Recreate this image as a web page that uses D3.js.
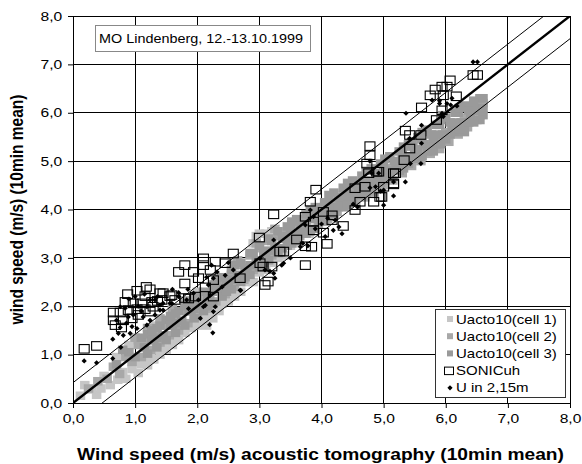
<!DOCTYPE html>
<html><head><meta charset="utf-8">
<script src="https://cdn.jsdelivr.net/npm/d3@7"></script>
<style>body{margin:0;background:#fff}svg{display:block;font-family:Arial,"Liberation Sans",sans-serif}</style>
</head><body><div id="chart"></div>
<script>
// ---------- data ----------
const xTickValues = [0,1,2,3,4,5,6,7,8];
const yTickValues = [0,1,2,3,4,5,6,7,8];
const chartTitle = "MO Lindenberg, 12.-13.10.1999";
const xTitle = "Wind speed (m/s) acoustic tomography (10min mean)";
const yTitle = "wind speed (m/s) (10min mean)";
const seriesNames = ["Uacto10(cell 1)","Uacto10(cell 2)","Uacto10(cell 3)","SONICuh","U in 2,15m"];
const bandOffsets = [0.42, -0.47];

const cell1 = [[0.12,0.15],[0.19,0.37],[0.38,0.17],[0.3,0.28],[0.45,0.3],[0.6,0.37],[0.72,0.48],[0.5,0.56],[0.8,0.64],[0.85,0.5],
[0.95,0.7],[1.0,0.85],[1.05,0.62],[1.1,0.8],[1.15,0.95],[1.2,0.78],[1.25,1.0],[1.3,0.9],[1.35,1.1],[1.4,1.0],[1.45,1.2],[1.5,1.1],
[1.55,1.3],[1.6,1.2],[1.65,1.4],[1.7,1.3],[1.75,1.5],[1.8,1.45],[1.85,1.6],[1.9,1.55],[1.95,1.7],[2.0,1.6],[2.05,1.8],[2.1,1.7],
[2.15,1.6],[2.2,1.85],[2.25,1.75],[2.3,1.95],[2.35,1.9],[2.4,2.05],[2.5,2.1],[2.6,2.2],[2.7,2.3],[2.8,2.5],[2.9,2.5],[3.0,2.7],
[3.1,2.75],[3.2,2.9],[3.3,3.0],[3.4,3.05],[3.5,3.25],[3.6,3.3],[3.7,3.5],[3.8,3.5],[1.0,1.3],[1.3,1.6],[2.0,2.3],[2.6,2.9],
[2.9,3.3],[3.0,3.5],[3.2,3.55],[2.95,3.45],[3.1,3.5],[0.7,0.95],[0.9,1.2]];

const cell2 = [[0.55,0.5],[0.65,0.75],[0.75,0.6],[0.85,0.95],[0.95,0.85],[1.05,1.2],[1.1,0.95],[1.2,1.3],[1.25,1.1],[1.35,1.45],
[1.4,1.25],[1.5,1.6],[1.55,1.4],[1.65,1.75],[1.7,1.5],[1.8,1.9],[1.85,1.65],[1.95,2.05],[2.0,1.8],[2.1,2.2],[2.15,1.95],[2.25,2.35],
[2.3,2.1],[2.4,2.5],[2.45,2.25],[2.55,2.65],[2.6,2.4],[2.7,2.85],[2.75,2.55],[2.85,3.05],[2.9,2.75],[3.0,3.2],[3.05,2.9],[3.15,3.35],
[3.2,3.05],[3.3,3.45],[3.35,3.2],[3.45,3.55],[3.5,3.3],[3.6,3.7],[3.65,3.45],[3.75,3.8],[3.8,3.55],[3.9,3.95],[3.95,3.7],[4.05,4.05],
[4.1,3.8],[4.2,4.15],[4.25,3.95],[4.35,4.3],[4.4,4.05],[4.5,4.4],[4.55,4.15],[4.65,4.5],[4.7,4.25],[4.8,4.6],[4.85,4.35],[4.95,4.75],
[5.0,4.5],[5.1,4.85],[5.15,4.6],[5.25,5.0],[5.3,4.75],[5.4,5.1],[5.45,4.9],[5.55,5.25],[5.6,5.0],[5.7,5.35],[5.75,5.15],[5.85,5.5],
[5.9,5.25],[6.0,5.6],[6.05,5.4],[6.15,5.75],[6.2,5.55],[6.3,5.9],[6.35,5.7],[6.45,6.05],[6.5,5.85],[6.6,6.2],[6.55,5.95],
[1.0,1.35],[1.2,1.55],[1.4,1.75],[1.6,1.95],[1.8,2.12],[2.35,2.6],[2.65,2.95],[2.95,3.3],[3.25,3.6],[0.4,0.45],[0.25,0.3]];

const cell3 = [[0.7,0.8],[0.9,1.05],[1.0,0.95],[1.15,1.15],[1.3,1.3],[1.45,1.4],[1.6,1.6],[1.75,1.7],[1.9,1.9],[2.05,2.0],[2.2,2.15],
[2.35,2.35],[2.5,2.45],[2.65,2.65],[2.8,2.75],[2.95,2.95],[3.1,3.1],[3.25,3.2],[3.4,3.4],[3.55,3.5],[3.7,3.65],[3.85,3.8],[4.0,3.9],
[4.15,4.05],[4.3,4.2],[4.45,4.3],[4.6,4.45],[4.75,4.55],[4.9,4.7],[5.05,4.8],[5.2,4.95],[5.35,5.05],[5.5,5.2],[5.65,5.35],[5.8,5.45],
[5.95,5.55],[6.1,5.7],[6.25,5.8],[6.4,5.95],[6.5,6.1],[6.6,6.3],[6.6,5.95],[6.45,6.25],[6.2,6.0],[5.9,5.75],[5.6,5.45],[5.3,5.15],
[5.0,4.9],[4.7,4.6],[4.4,4.4],[4.1,4.15],[3.8,3.9],[3.5,3.6],[3.2,3.35],[2.9,3.1],[2.6,2.85],[2.3,2.5],[2.0,2.2],[1.7,1.9],[1.4,1.6],
[1.1,1.35],[0.8,1.1],[5.8,5.2],[6.3,5.6],[6.55,6.05],[5.45,5.4],[5.95,5.95],
[1.2,1.42],[1.2,1.02],[1.5,1.72],[1.5,1.3],[1.8,2.0],[1.8,1.6],[2.1,2.3],[2.1,1.9],[2.4,2.6],[2.4,2.2],[2.7,2.9],[2.7,2.5],
[3.0,3.25],[3.0,2.8],[3.3,3.55],[3.3,3.1],[3.6,3.8],[3.6,3.35],[3.9,4.05],[3.9,3.6],[4.2,4.35],[4.2,3.9],[4.5,4.6],[4.5,4.15],
[4.8,4.85],[4.8,4.4],[5.1,5.1],[5.1,4.65],[5.4,5.35],[5.4,4.95],[5.7,5.65],[5.7,5.2],[6.0,5.9],[6.0,5.45],[6.3,6.15],[6.3,5.75],
[6.55,6.3],[6.55,5.85],[1.35,1.35],[1.65,1.65],[1.95,1.95],[2.25,2.3],[2.55,2.55],[2.85,2.85],[3.15,3.15],[3.45,3.45],[3.75,3.7],
[4.05,3.95],[4.35,4.25],[4.65,4.5],[4.95,4.75],[5.25,5.0],[5.55,5.25],[5.85,5.55],[6.15,5.8],[6.45,6.05],
[1.35,1.55],[1.35,1.15],[1.65,1.85],[1.65,1.45],[1.95,2.15],[1.95,1.75],[2.25,2.45],[2.25,2.05],[2.55,2.75],[2.55,2.35],
[2.85,3.1],[2.85,2.65],[3.15,3.4],[3.15,2.95],[3.45,3.65],[3.45,3.25],[3.75,3.9],[3.75,3.5],[4.05,4.15],[4.05,3.75],[4.35,4.45],
[4.35,4.05],[4.65,4.7],[4.65,4.3],[4.95,4.95],[4.95,4.55],[5.25,5.2],[5.25,4.8],[5.55,5.5],[5.55,5.05],[5.85,5.75],[5.85,5.35],
[6.15,6.0],[6.15,5.6],[6.45,6.2],[6.45,5.8],
[1.27,1.3],[1.27,1.5],[1.57,1.6],[1.57,1.8],[1.87,1.9],[1.87,2.08],[2.17,2.2],[2.17,2.0],[2.47,2.5],[2.47,2.3],[2.77,2.8],[2.77,2.6],
[3.07,3.1],[3.07,2.9],[3.37,3.4],[3.37,3.2],[3.67,3.7],[3.67,3.5],[3.97,3.95],[3.97,3.75],[4.27,4.25],[4.27,4.05],[4.57,4.5],
[4.57,4.3],[4.87,4.75],[4.87,4.55],[5.17,5.0],[5.17,4.8],[5.47,5.3],[5.47,5.05],[5.77,5.55],[5.77,5.3],[6.07,5.8],[6.07,5.55],
[6.37,6.05],[6.37,5.8],[6.6,6.1],[3.52,3.75],[3.82,4.0],[4.12,4.3],[4.42,4.55],[4.72,4.8],[5.02,5.05],[5.32,5.3],[5.62,5.6],[5.92,5.85],
[6.22,6.1],[3.52,3.3],[3.82,3.55],[4.12,3.85],[4.42,4.1],[4.72,4.35],[5.02,4.6],[5.32,4.85],[5.62,5.1],[5.92,5.35],[6.22,5.65]];

const sonic = [[0.18,1.12],[0.38,1.18],[1.03,2.32],[1.24,2.35],[1.40,2.27],[1.56,2.21],[1.16,2.21],[0.84,2.09],[0.97,2.06],[1.11,2.06],
[1.27,2.09],[0.65,1.87],[0.76,1.87],[0.89,1.92],[1.03,1.94],[1.16,1.94],[0.65,1.71],[0.81,1.71],[0.95,1.75],[0.68,1.61],[0.78,1.56],
[1.05,1.82],[1.29,1.99],[1.36,2.11],[1.24,1.89],[1.64,2.13],[1.80,2.17],[1.97,2.2],[0.88,2.25],[1.18,2.4],
[1.45,2.27],[1.59,2.23],[1.43,2.13],[1.86,2.16],[2.26,2.20],[1.80,2.47],[2.02,2.58],[2.13,2.39],[2.26,2.54],[1.70,2.71],[1.94,2.71],
[2.21,2.75],[1.80,2.85],[2.10,2.85],[2.10,2.99],[2.29,2.92],[2.45,2.89],[2.58,3.09],[2.69,2.58],[3.01,2.89],[3.06,2.82],[3.14,2.51],
[3.09,2.44],[3.0,3.42],[3.23,3.90],
[4.78,5.31],[4.78,5.12],[4.73,4.95],[3.91,4.41],[3.82,4.16],[4.76,4.75],[4.89,4.78],[5.19,4.75],[5.16,4.54],[4.54,4.44],[4.70,4.47],
[4.94,4.26],[4.84,4.16],[4.62,4.16],[4.54,3.99],[4.03,3.95],[4.17,3.88],[4.17,3.78],[3.74,3.85],[3.87,3.75],[3.87,3.57],[4.03,3.52],
[4.35,3.66],[4.09,3.29],[3.60,3.38],[3.84,3.23],[3.74,3.24],[3.33,3.13],[3.39,3.13],[3.74,2.85],[3.20,2.82],
[6.44,6.78],[6.51,6.78],[6.07,6.67],[5.94,6.54],[6.02,6.54],[5.83,6.48],[5.75,6.36],[5.96,6.36],[6.17,6.34],[5.61,6.11],[5.94,6.05],
[5.85,5.85],[5.35,5.63],[5.42,5.54],[5.60,5.54],[5.42,5.26],[5.33,5.02],[5.16,4.75],[5.16,4.52],[5.0,4.47],[4.97,4.26],[4.92,4.78]];

const u215 = [[0.18,0.87],[0.38,0.83],[0.64,1.32],[0.77,1.15],[0.64,0.92],[0.73,1.44],[0.92,1.44],[1.03,1.54],[1.19,1.61],[1.24,1.71],
[1.32,1.82],[1.40,1.92],[1.45,2.06],[1.56,2.06],[1.70,2.28],[0.76,1.99],[0.84,1.96],[0.89,1.78],[0.97,1.82],[1.1,1.9],[1.13,1.78],
[1.19,1.99],[1.32,2.13],[1.36,2.2],[0.86,1.65],[0.76,1.56],[0.81,1.40],[0.70,1.71],[0.95,1.58],[1.05,2.0],[1.24,2.13],[1.40,2.03],
[1.0,2.2],[0.9,2.15],[1.15,2.25],[1.6,2.35],[1.85,2.35],
[1.45,1.92],[1.59,2.06],[1.70,2.2],[1.83,2.13],[1.86,1.95],[1.94,2.27],[2.02,2.13],[2.10,1.99],[2.21,2.23],[2.29,1.99],[2.18,2.44],
[2.23,2.85],[2.32,2.71],[2.45,2.64],[2.26,2.58],[2.69,2.33],[2.58,2.75],[3.01,2.99],[3.09,2.75],[3.17,2.72],[3.25,2.58],[2.2,1.62],
[2.25,1.45],[2.05,1.75],[2.4,2.4],[2.15,2.6],[2.5,2.9],[2.26,1.89],[2.13,2.02],[2.70,2.33],
[4.81,4.75],[4.92,4.75],[4.78,4.45],[4.87,4.47],[4.95,4.38],[5.16,4.57],[5.0,4.09],[4.51,4.11],[4.58,4.05],[4.22,3.78],[4.1,3.82],
[4.06,3.44],[4.19,3.57],[4.33,3.50],[4.28,3.64],[3.82,3.99],[3.87,3.85],[3.74,3.68],[3.66,3.23],[3.7,3.3],[3.78,3.25],[3.23,3.37],
[3.39,2.89],[3.36,2.85],[3.23,2.68],[4.78,5.0],[3.9,3.6],[4.0,3.7],[3.5,3.0],
[6.44,7.05],[6.51,7.05],[5.78,6.26],[5.90,6.19],[6.02,6.19],[6.08,6.16],[6.18,6.14],[5.36,5.99],[5.61,5.74],[5.94,5.99],[5.96,5.92],
[5.42,5.47],[5.61,5.37],[5.43,4.95],[5.60,4.95],[5.35,4.57],[5.16,4.28],[5.0,4.4],[5.9,6.25],[6.1,6.3]];

// ---------- layout ----------
const W = 582, H = 464;
const L = 73, R = 570, T = 16, B = 403;
const SX = 1.2; // horizontal text stretch of the original
const grayColors = ["#c6c6c6", "#a8a8a8", "#9a9a9a"];

const svg = d3.select("#chart").append("svg").attr("width", W).attr("height", H);
const x = d3.scaleLinear().domain([0, 8]).range([L, R]);
const y = d3.scaleLinear().domain([0, 8]).range([B, T]);
const loc = d3.formatLocale({decimal: ",", thousands: ".", grouping: [3], currency: ["", "€"]});
const fmt = loc.format(".1f");

svg.append("defs").append("clipPath").attr("id", "clip")
  .append("rect").attr("x", L).attr("y", T).attr("width", R - L).attr("height", B - T);

// grid
const grid = svg.append("g").attr("stroke", "#000").attr("stroke-width", 1).attr("shape-rendering", "crispEdges");
grid.selectAll(".gx").data(xTickValues).join("line")
  .attr("x1", d => x(d)).attr("x2", d => x(d)).attr("y1", T).attr("y2", B);
grid.selectAll(".gy").data(yTickValues).join("line")
  .attr("y1", d => y(d)).attr("y2", d => y(d)).attr("x1", L).attr("x2", R);

// axes
const xAxis = svg.append("g").attr("transform", `translate(0,${B})`)
  .call(d3.axisBottom(x).tickValues(xTickValues).tickFormat(fmt).tickSize(5).tickSizeOuter(0));
const yAxis = svg.append("g").attr("transform", `translate(${L},0)`)
  .call(d3.axisLeft(y).tickValues(yTickValues).tickFormat(fmt).tickSize(5).tickSizeOuter(0));
[xAxis, yAxis].forEach(g => {
  g.select(".domain").attr("stroke", "#000");
  g.selectAll(".tick line").attr("stroke", "#000");
  g.selectAll(".tick text").attr("fill", "#000").style("font-size", "13px")
    .style("font-family", "Arial, 'Liberation Sans', sans-serif");
});
xAxis.selectAll(".tick text").attr("y", 11).attr("dy", "0.71em").attr("transform", `scale(${SX},1)`);
yAxis.selectAll(".tick text").attr("x", -9).attr("transform", `scale(${SX},1)`);

const plot = svg.append("g").attr("clip-path", "url(#clip)");

// gray series
[cell1, cell2, cell3].forEach((ser, i) => {
  plot.append("g").selectAll("rect").data(ser).join("rect")
    .attr("x", d => x(d[0]) - 4.75).attr("y", d => y(d[1]) - 4.25)
    .attr("width", 9.5).attr("height", 8.5).attr("fill", grayColors[i]);
});

// reference lines
const diag = plot.append("g");
diag.append("line").attr("x1", x(0)).attr("y1", y(0)).attr("x2", x(8)).attr("y2", y(8))
  .attr("stroke", "#000").attr("stroke-width", 2.4);
bandOffsets.forEach(o => {
  diag.append("line").attr("x1", x(-1)).attr("y1", y(-1 + o)).attr("x2", x(9)).attr("y2", y(9 + o))
    .attr("stroke", "#000").attr("stroke-width", 1);
});

// SONIC squares
plot.append("g").selectAll("rect").data(sonic).join("rect")
  .attr("x", d => x(d[0]) - 5).attr("y", d => y(d[1]) - 4.25)
  .attr("width", 10).attr("height", 8.5).attr("fill", "none").attr("stroke", "#000").attr("stroke-width", 1.1);

// U in 2,15m dots (small diamonds)
const diamond = (cx, cy) => `M${cx},${cy - 2.6}L${cx + 2.6},${cy}L${cx},${cy + 2.6}L${cx - 2.6},${cy}Z`;
plot.append("g").selectAll("path").data(u215).join("path")
  .attr("d", d => diamond(x(d[0]), y(d[1]))).attr("fill", "#000");

// title box
const tb = svg.append("g");
tb.append("rect").attr("x", 95.5).attr("y", 25.5).attr("width", 215).attr("height", 26)
  .attr("fill", "#fff").attr("stroke", "#888").attr("stroke-width", 1);
tb.append("text").attr("transform", `translate(99,43) scale(${SX},1)`)
  .style("font-size", "12px").text(chartTitle);

// legend
const lg = svg.append("g");
lg.append("rect").attr("x", 435.5).attr("y", 309.5).attr("width", 130).attr("height", 88)
  .attr("fill", "#fff").attr("stroke", "#333").attr("stroke-width", 1);
seriesNames.forEach((name, i) => {
  const cy = 319 + i * 17.2;
  const g = lg.append("g");
  if (i < 3) g.append("rect").attr("x", 447).attr("y", cy - 3).attr("width", 6).attr("height", 6).attr("fill", grayColors[i]);
  else if (i === 3) g.append("rect").attr("x", 444.5).attr("y", cy - 3.5).attr("width", 9).attr("height", 7.5)
    .attr("fill", "none").attr("stroke", "#000").attr("stroke-width", 1);
  else g.append("path").attr("d", diamond(450, cy)).attr("fill", "#000");
  g.append("text").attr("transform", `translate(456,${cy + 4.5}) scale(${SX},1)`)
    .style("font-size", "12.5px").text(name);
});

// axis titles
svg.append("text").attr("transform", `translate(${(L + R) / 2 - 1},460) scale(${SX},1)`)
  .attr("text-anchor", "middle").style("font-size", "16px").style("font-weight", "bold").text(xTitle);
svg.append("text").attr("transform", `translate(23,${(T + B) / 2}) rotate(-90) scale(1,${SX})`)
  .attr("text-anchor", "middle").style("font-size", "15.5px").style("font-weight", "bold").text(yTitle);
</script></body></html>
